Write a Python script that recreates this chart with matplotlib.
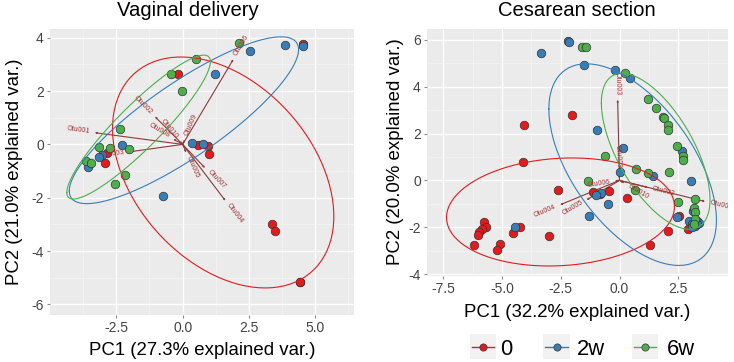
import numpy as np
import matplotlib
matplotlib.use("Agg")
import matplotlib.pyplot as plt
import matplotlib.transforms as mtransforms
from matplotlib.patches import Rectangle
from matplotlib.lines import Line2D

plt.rcParams['font.family'] = ['Liberation Sans', 'DejaVu Sans']

# ---------------- data ----------------
groups = ["0", "2w", "6w"]
group_colors = {"0": "#E41A1C", "2w": "#377EB8", "6w": "#4DAF4A"}

# Vaginal delivery PCA scores
vd_0_x = [4.52, -0.16, -2.84, -2.94, 0.58, 0.97, 0.98, 3.35, 3.49, 4.43, 4.43]
vd_0_y = [3.76, 2.66, -0.34, -0.69, -0.01, -0.06, -0.36, -2.98, -3.24, -5.15, -5.17]
vd_2w_x = [3.87, 4.55, 2.55, 1.21, -2.30, -3.04, -3.14, -3.56, 0.35, 0.78, -0.74]
vd_2w_y = [3.74, 3.71, 3.51, 2.66, -0.01, -0.41, -0.49, -0.84, 0.04, 0.01, -1.94]
vd_6w_x = [2.13, 0.50, -0.44, -0.04, -2.35, -3.14, -2.74, -2.02, -3.64, -3.47, -2.16, -2.55]
vd_6w_y = [3.79, 3.19, 2.64, 1.99, 0.56, -0.11, -0.13, -0.16, -0.61, -0.71, -1.14, -1.50]

# Cesarean section PCA scores
cs_0_x = [-2.04, -4.05, -4.09, -2.60, -1.11, -0.83, -0.46, 0.33, 2.55, 2.08, 2.90, 3.30,
          1.30, -4.23, -4.52, -2.99, -5.79, -5.68, -5.86, -6.00, -6.04, -6.19, -5.09, -5.23]
cs_0_y = [2.80, 2.36, 0.79, -0.43, -0.49, -0.56, -0.46, -0.77, -1.50, -2.17, -2.08, -1.72,
          -2.75, -1.99, -2.25, -2.37, -1.78, -1.99, -2.08, -2.19, -2.31, -2.74, -2.71, -2.96]
cs_2w_x = [-2.18, -2.15, -3.35, -1.53, -0.19, 0.46, -0.97, 0.16, 2.65, 0.01, 1.41, 3.03,
           -0.79, -1.00, -0.48, -1.28, -4.45, 2.46, 3.14, 2.96, 3.07, 3.21, 3.40, 3.30, 3.07]
cs_2w_y = [5.94, 5.91, 5.43, 4.92, 4.69, 4.38, 2.13, 1.38, 1.25, 0.34, 0.20, -0.03,
           -0.54, -0.61, -1.00, -1.54, -1.97, -1.57, -1.30, -1.75, -1.85, -1.94, -1.80, -1.85, -2.00]
cs_6w_x = [-1.58, -1.41, 0.23, 1.23, 1.54, 1.84, 1.89, 2.05, 2.05, 2.46, 2.72, 2.72,
           -0.62, 0.69, 1.23, 2.11, -1.33, 0.66, 2.50, 3.21, 3.17, 3.21, 3.21, 3.17]
cs_6w_y = [5.69, 5.69, 4.60, 3.48, 3.10, 2.70, 2.66, 2.36, 2.16, 1.48, 1.06, 0.88,
           1.02, 0.49, 0.31, 0.34, -0.03, -0.43, -0.93, -0.79, -1.16, -1.37, -1.64, -1.85]

# variable loadings (arrows)
vd_var_names = ["Otu001", "Otu002", "Otu003", "Otu004", "Otu005", "Otu006",
                "Otu007", "Otu008", "Otu009", "Otu010"]
vd_var_x = [-3.31, -1.04, -2.01, 1.61, 0.13, 1.91, 0.84, -0.35, 0.08, -0.10]
vd_var_y = [0.44, 1.04, -0.28, -2.11, -0.30, 3.19, -0.88, 0.20, 0.18, 0.12]

cs_var_names = ["Otu001", "Otu002", "Otu003", "Otu004", "Otu005", "Otu006",
                "Otu009", "Otu010"]
cs_var_x = [3.64, 1.20, -0.08, -2.53, -1.40, -0.20, -0.02, 0.20]
cs_var_y = [-0.90, -0.30, 3.44, -1.04, -0.83, -0.03, 0.32, -0.12]

titles = ["Vaginal delivery", "Cesarean section"]
xlabels = ["PC1 (27.3% explained var.)", "PC1 (32.2% explained var.)"]
ylabels = ["PC2 (21.0% explained var.)", "PC2 (20.0% explained var.)"]

# ---------------- figure ----------------
W, H = 734, 362
fig = plt.figure(figsize=(W / 100, H / 100), dpi=100)


def fx(px):
    return px / W


def fy(py):
    return 1 - py / H


def ellipse_pts(x, y, prob=0.68, n=100):
    x = np.asarray(x); y = np.asarray(y)
    sigma = np.cov(np.vstack([x, y]))
    mu = np.array([x.mean(), y.mean()])
    ed = np.sqrt(-2 * np.log(1 - prob))
    th = np.linspace(-np.pi, np.pi, n)
    circ = np.column_stack([np.cos(th), np.sin(th)])
    R = np.linalg.cholesky(sigma).T
    return circ @ R * ed + mu


def panel(ax, data, vnames, vx, vy, xlim, ylim, xticks, yticks, xminor, yminor):
    ax.set_facecolor("#EBEBEB")
    for s in ax.spines.values():
        s.set_visible(False)
    ax.set_xlim(*xlim); ax.set_ylim(*ylim)
    ax.set_xticks(xticks)
    ax.set_xticklabels([f"{t:.1f}" for t in xticks])
    ax.set_yticks(yticks)
    ax.set_yticklabels([f"{t:d}" for t in yticks])
    ax.set_xticks(xminor, minor=True)
    ax.set_yticks(yminor, minor=True)
    ax.grid(True, which="major", color="white", lw=1.0)
    ax.grid(True, which="minor", color="#F5F5F5", lw=0.5)
    ax.set_axisbelow(True)
    ax.tick_params(which="major", length=2.5, color="#8A8A8A", labelsize=10,
                   labelcolor="#444444", pad=2)
    ax.tick_params(which="minor", length=0)
    # arrows
    for name, x, y in zip(vnames, vx, vy):
        ax.annotate("", xy=(x, y), xytext=(0, 0),
                    arrowprops=dict(arrowstyle="-|>", color="#8E3A3A", lw=0.8,
                                    mutation_scale=2, shrinkA=0, shrinkB=0),
                    zorder=2)
    # points
    for g in groups:
        gx, gy = data[g]
        ax.scatter(gx, gy, s=38, c=group_colors[g], edgecolors="#333333",
                   linewidths=0.5, zorder=3)
    # ellipses
    for g in groups:
        gx, gy = data[g]
        e = ellipse_pts(gx, gy)
        ax.plot(e[:, 0], e[:, 1], color=group_colors[g], lw=0.8, zorder=4)
    # labels
    for name, x, y in zip(vnames, vx, vy):
        ang = np.degrees(np.arctan(y / x))
        sgn = 1 if x > 0 else -1
        gap = 3.5
        dx = sgn * gap * np.cos(np.radians(ang))
        dy = sgn * gap * np.sin(np.radians(ang))
        tr = mtransforms.offset_copy(ax.transData, fig=fig, x=dx, y=dy, units="points")
        ax.text(x, y, name, transform=tr, rotation=ang, rotation_mode="anchor",
                ha="left" if x > 0 else "right", va="center", fontsize=5.0,
                color="#A03030", zorder=5, clip_on=True)


ax1 = fig.add_axes([fx(50), fy(315), fx(354) - fx(50), fy(29) - fy(315)])
panel(ax1,
      {"0": (vd_0_x, vd_0_y), "2w": (vd_2w_x, vd_2w_y), "6w": (vd_6w_x, vd_6w_y)},
      vd_var_names, vd_var_x, vd_var_y,
      (-5.0, 6.46), (-6.40, 4.33),
      [-2.5, 0.0, 2.5, 5.0], [-6, -4, -2, 0, 2, 4],
      [-3.75, -1.25, 1.25, 3.75, 6.25], [-5, -3, -1, 1, 3])

ax2 = fig.add_axes([fx(427), fy(276), fx(728) - fx(427), fy(29) - fy(276)])
panel(ax2,
      {"0": (cs_0_x, cs_0_y), "2w": (cs_2w_x, cs_2w_y), "6w": (cs_6w_x, cs_6w_y)},
      cs_var_names, cs_var_x, cs_var_y,
      (-8.2, 4.62), (-4.08, 6.46),
      [-7.5, -5.0, -2.5, 0.0, 2.5], [-4, -2, 0, 2, 4, 6],
      [-6.25, -3.75, -1.25, 1.25, 3.75], [-3, -1, 1, 3, 5])

# titles and axis labels
fig.text(fx(117), fy(16), titles[0], fontsize=14.6, ha="left", va="baseline", color="black")
fig.text(fx(498), fy(16), titles[1], fontsize=14.6, ha="left", va="baseline", color="black")
fig.text(fx(202), fy(355), xlabels[0], fontsize=13.4, ha="center", va="baseline")
fig.text(fx(577), fy(317), xlabels[1], fontsize=13.4, ha="center", va="baseline")
fig.text(fx(15), fy(172), ylabels[0], fontsize=13.4, ha="center", va="center", rotation=90)
fig.text(fx(395), fy(152), ylabels[1], fontsize=13.4, ha="center", va="center", rotation=90)

# legend (drawn in figure coordinates)
key_left = [469.5, 543.3, 631.7]
lab_left = [500, 577, 667]
for g, kl, ll in zip(groups, key_left, lab_left):
    fig.add_artist(Rectangle((fx(kl), fy(359.3)), fx(26.5), fy(334) - fy(359.3),
                             transform=fig.transFigure, facecolor="#F2F2F2",
                             edgecolor="none"))
    fig.add_artist(Line2D([fx(kl + 2), fx(kl + 24.5)], [fy(346.5), fy(346.5)],
                          transform=fig.transFigure, color=group_colors[g], lw=1.0))
    fig.add_artist(Line2D([fx(kl + 13.25)], [fy(346.5)], transform=fig.transFigure,
                          marker="o", markersize=5.2, markerfacecolor=group_colors[g],
                          markeredgecolor="#333333", markeredgewidth=0.5, lw=0))
    fig.text(fx(ll), fy(355), g, fontsize=15.8, ha="left", va="baseline")

fig.savefig("out.png", dpi=100)
